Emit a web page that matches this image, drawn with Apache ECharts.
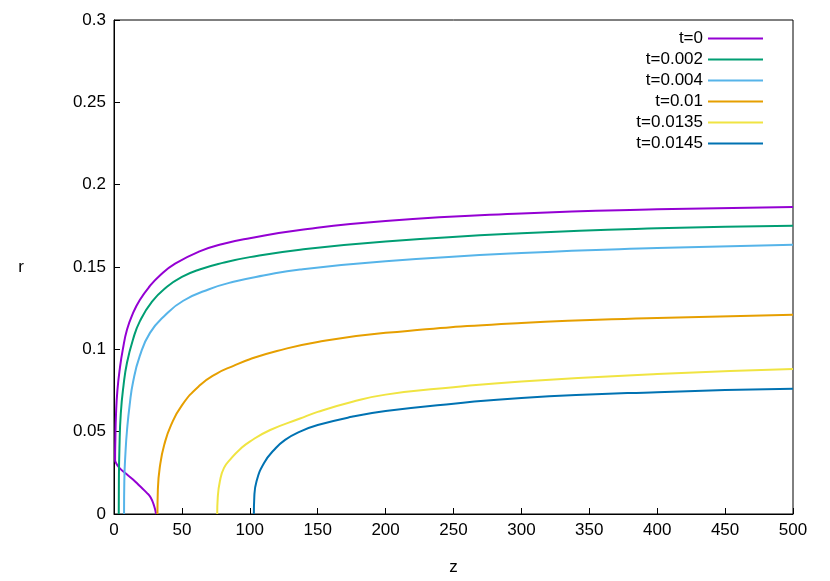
<!DOCTYPE html>
<html>
<head>
<meta charset="utf-8">
<title>r vs z</title>
<script src="https://cdn.jsdelivr.net/npm/echarts@6/dist/echarts.min.js"></script>
<style>
  body { margin: 0; background: #fff; }
  #main { width: 830px; height: 581px; }
</style>
</head>
<body>
<div id="main"></div>
<script type="text/javascript">
// series labels and colours
var names = ['t=0', 't=0.002', 't=0.004', 't=0.01', 't=0.0135', 't=0.0145'];
var colors = ['#9400d3', '#009e73', '#56b4e9', '#e69f00', '#f0e442', '#0072b2'];

// [z, r] points
var t0 = [[31,0],[29.5,0.005],[27,0.01],[24,0.013],[19,0.017],[14,0.021],[8,0.025],[4,0.028],[1.5,0.031],[0.8,0.033],
  [1,0.045],[1.5,0.061],[2.5,0.075],[4.4,0.089],[6.5,0.1],[9.6,0.112],[14,0.122],[19,0.13],[26,0.138],[34,0.145],
  [45,0.152],[63,0.1595],[80,0.164],[100,0.1675],[137,0.1725],[200,0.178],[300,0.1825],[400,0.185],[500,0.1865]];
var t002 = [[3.5,0],[3.6,0.02],[4,0.04],[5,0.061],[7,0.078],[9.6,0.092],[14,0.106],[19,0.117],[28,0.129],[39,0.138],
  [50,0.144],[63,0.1485],[80,0.1525],[100,0.156],[137,0.1605],[200,0.1655],[300,0.1705],[400,0.1735],[500,0.175]];
var t004 = [[7.4,0],[7.6,0.02],[8.5,0.038],[9.6,0.051],[11.5,0.066],[14,0.08],[19,0.096],[26.5,0.11],[38,0.121],
  [51,0.1295],[70,0.1365],[88,0.141],[110,0.1448],[137,0.1485],[200,0.1535],[300,0.1585],[400,0.1615],[500,0.1635]];
var t01 = [[32,0],[32.3,0.015],[34,0.03],[37,0.042],[42,0.054],[50,0.066],[63,0.078],[75,0.085],[88,0.09],[100,0.094],
  [120,0.099],[150,0.1045],[200,0.11],[300,0.116],[400,0.119],[500,0.121]];
var t0135 = [[76,0],[76.4,0.01],[78,0.02],[81,0.028],[86,0.0335],[93,0.0395],[100,0.044],[115,0.051],[137,0.058],
  [150,0.062],[175,0.068],[200,0.0725],[250,0.077],[300,0.0805],[400,0.085],[500,0.088]];
var t0145 = [[103,0],[103.3,0.01],[105,0.02],[110.5,0.031],[118,0.039],[126,0.045],[137,0.05],[150,0.054],[175,0.059],
  [200,0.0625],[250,0.067],[300,0.0705],[400,0.074],[500,0.076]];
var allData = [t0, t002, t004, t01, t0135, t0145];

var myChart = echarts.init(document.getElementById('main'));
var series = names.map(function (n, i) {
    return {
        name: n, type: 'line', data: allData[i], smooth: 0.5,
        symbol: 'none', lineStyle: { width: 2, color: colors[i] }, itemStyle: { color: colors[i] }
    };
});
var axisText = { color: '#000', fontSize: 17, fontFamily: 'Liberation Sans' };
option = {
    animation: false,
    grid: { left: 114, right: 37, top: 20, bottom: 67, show: true, borderColor: '#000', borderWidth: 1 },
    legend: {
        orient: 'vertical', right: 62, top: 25, align: 'right', itemGap: 4,
        itemWidth: 55, itemHeight: 2, icon: 'rect',
        textStyle: { color: '#000', fontSize: 17, fontFamily: 'Liberation Sans', lineHeight: 17 },
        data: names
    },
    xAxis: {
        type: 'value', min: 0, max: 500, interval: 50,
        name: 'z', nameLocation: 'middle', nameGap: 45, nameTextStyle: axisText,
        axisLine: { lineStyle: { color: '#000' } },
        axisTick: { inside: true, length: 6, lineStyle: { color: '#000' } },
        axisLabel: axisText, splitLine: { show: false }
    },
    yAxis: {
        type: 'value', min: 0, max: 0.3, interval: 0.05,
        name: 'r', nameLocation: 'middle', nameGap: 90, nameRotate: 0, nameTextStyle: axisText,
        axisLine: { show: true, lineStyle: { color: '#000' } },
        axisTick: { show: true, inside: true, length: 6, lineStyle: { color: '#000' } },
        axisLabel: axisText, splitLine: { show: false }
    },
    series: series
};
myChart.setOption(option);
</script>
</body>
</html>
